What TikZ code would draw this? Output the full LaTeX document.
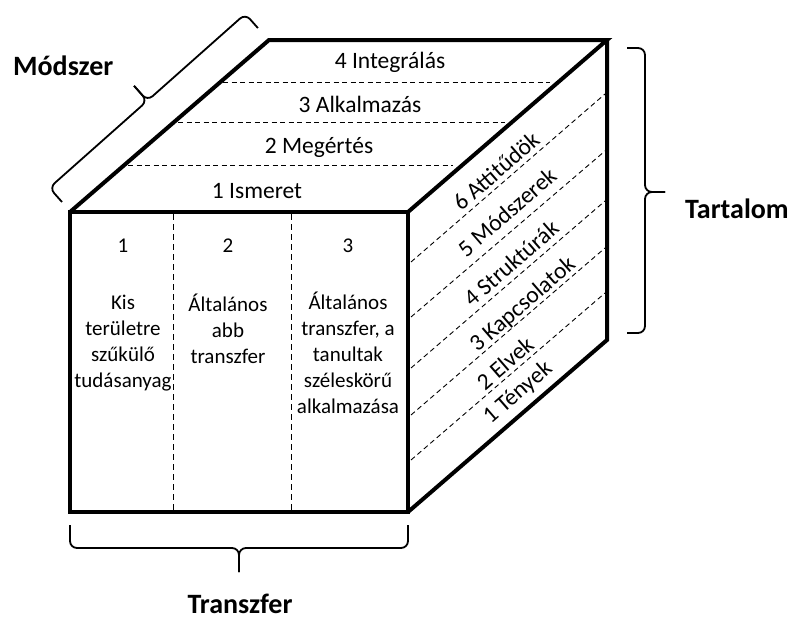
\documentclass[tikz,border=0pt]{standalone}
\usepackage{fontspec}
\setmainfont{Carlito}
\begin{document}
\begin{tikzpicture}[x=1pt,y=-1pt,
  edge/.style={line width=4pt, line join=miter},
  thindash/.style={line width=0.9pt, dash pattern=on 5pt off 3.5pt},
  lvl/.style={font=\fontsize{23.5}{28}\selectfont, inner sep=0pt, anchor=base},
  side/.style={font=\fontsize{23.5}{28}\selectfont, inner sep=0pt, rotate=41},
  col/.style={font=\fontsize{21}{25.8}\selectfont, inner sep=0pt, anchor=base, align=center},
  axislabel/.style={font=\fontsize{28}{32}\selectfont\bfseries, inner sep=0pt},
  bracket/.style={line width=1.8pt, rounded corners=7pt},
]
\path[use as bounding box] (0,0) rectangle (795,616);

% cube corners
\coordinate (A) at (70,212);
\coordinate (B) at (408,212);
\coordinate (C) at (408,512);
\coordinate (D) at (70,512);
\coordinate (E) at (269,40);
\coordinate (F) at (607,40);
\coordinate (G) at (607,340);

% level lines on the top face
\coordinate (u1a) at (223,82);  \coordinate (u1b) at (550,82);
\coordinate (u2a) at (178,122); \coordinate (u2b) at (505,122);
\coordinate (u3a) at (128,165); \coordinate (u3b) at (453,165);
\foreach \i in {1,2,3} \draw[thindash] (u\i a) -- (u\i b);

% level lines on the right face
\coordinate (r1a) at (411,262); \coordinate (r1b) at (605,94);
\coordinate (r2a) at (411,317); \coordinate (r2b) at (605,151);
\coordinate (r3a) at (411,368); \coordinate (r3b) at (605,201);
\coordinate (r4a) at (411,415); \coordinate (r4b) at (605,248);
\coordinate (r5a) at (411,460); \coordinate (r5b) at (605,293);
\foreach \i in {1,...,5} \draw[thindash] (r\i a) -- (r\i b);

% column separators on the front face
\coordinate (f1a) at (173,214); \coordinate (f1b) at (173,510);
\coordinate (f2a) at (291,214); \coordinate (f2b) at (291,510);
\foreach \i in {1,2} \draw[thindash, dash pattern=on 6pt off 4pt] (f\i a) -- (f\i b);

% cube outline
\draw[edge] (A) -- (B) -- (C) -- (D) -- cycle;
\draw[edge] (A) -- (E) -- (F) -- (B);
\draw[edge] (F) -- (G) -- (C);

% top face: method levels
\node[lvl] (m4) at (390,68) {4 Integrálás};
\node[lvl] (m3) at (360,112) {3 Alkalmazás};
\node[lvl] (m2) at (319,153) {2 Megértés};
\node[lvl] (m1) at (257,198) {1 Ismeret};

% right face: content levels
\node[side] (c6) at (496,171) {6 Attitűdök};
\node[side] (c5) at (507,212) {5 Módszerek};
\node[side] (c4) at (511,263) {4 Struktúrák};
\node[side] (c3) at (523,305) {3 Kapcsolatok};
\node[side] (c2) at (505,363) {2 Elvek};
\node[side] (c1) at (518,393) {1 Tények};

% front face: transfer levels (a multi-line node sits on its last baseline)
\node[col] (n1) at (123,252) {1};
\node[col] (n2) at (228,252) {2};
\node[col] (n3) at (348,252) {3};
\node[col] (t1) at (123,387) {Kis\\területre\\szűkülő\\tudásanyag};
\node[col] (t2) at (228,363) {Általános\\abb\\transzfer};
\node[col] (t3) at (348,413) {Általános\\transzfer, a\\tanultak\\széleskörű\\alkalmazása};

% braces
\begin{scope}[shift={(62,202)}, rotate=41.6]
  \coordinate (mb0) at (0,0);
  \coordinate (mb1) at (0,-19);
  \coordinate (mbm) at (131,-19);
  \coordinate (mbt) at (131,-39);
  \coordinate (mb2) at (262,-19);
  \coordinate (mb3) at (262,0);
\end{scope}
\draw[bracket] (mb0) -- (mb1) -- (mbm) -- (mbt);
\draw[bracket] (mb3) -- (mb2) -- (mbm) -- (mbt);

\coordinate (tb0) at (70,525);  \coordinate (tb1) at (70,548);
\coordinate (tbm) at (239,548); \coordinate (tbt) at (239,572);
\coordinate (tb2) at (408,548); \coordinate (tb3) at (408,525);
\draw[bracket] (tb0) -- (tb1) -- (tbm) -- (tbt);
\draw[bracket] (tb3) -- (tb2) -- (tbm) -- (tbt);

\coordinate (sb0) at (627,48);  \coordinate (sb1) at (645,48);
\coordinate (sbm) at (645,192); \coordinate (sbt) at (665,192);
\coordinate (sb2) at (645,333); \coordinate (sb3) at (627,333);
\draw[bracket] (sb0) -- (sb1) -- (sbm) -- (sbt);
\draw[bracket] (sb3) -- (sb2) -- (sbm) -- (sbt);

% axis names
\node[axislabel, anchor=base west] (lm) at (13,75) {Módszer};
\node[axislabel, anchor=base west] (lt) at (685,218) {Tartalom};
\node[axislabel, anchor=base] (lx) at (240,613) {Transzfer};
\end{tikzpicture}
\end{document}
